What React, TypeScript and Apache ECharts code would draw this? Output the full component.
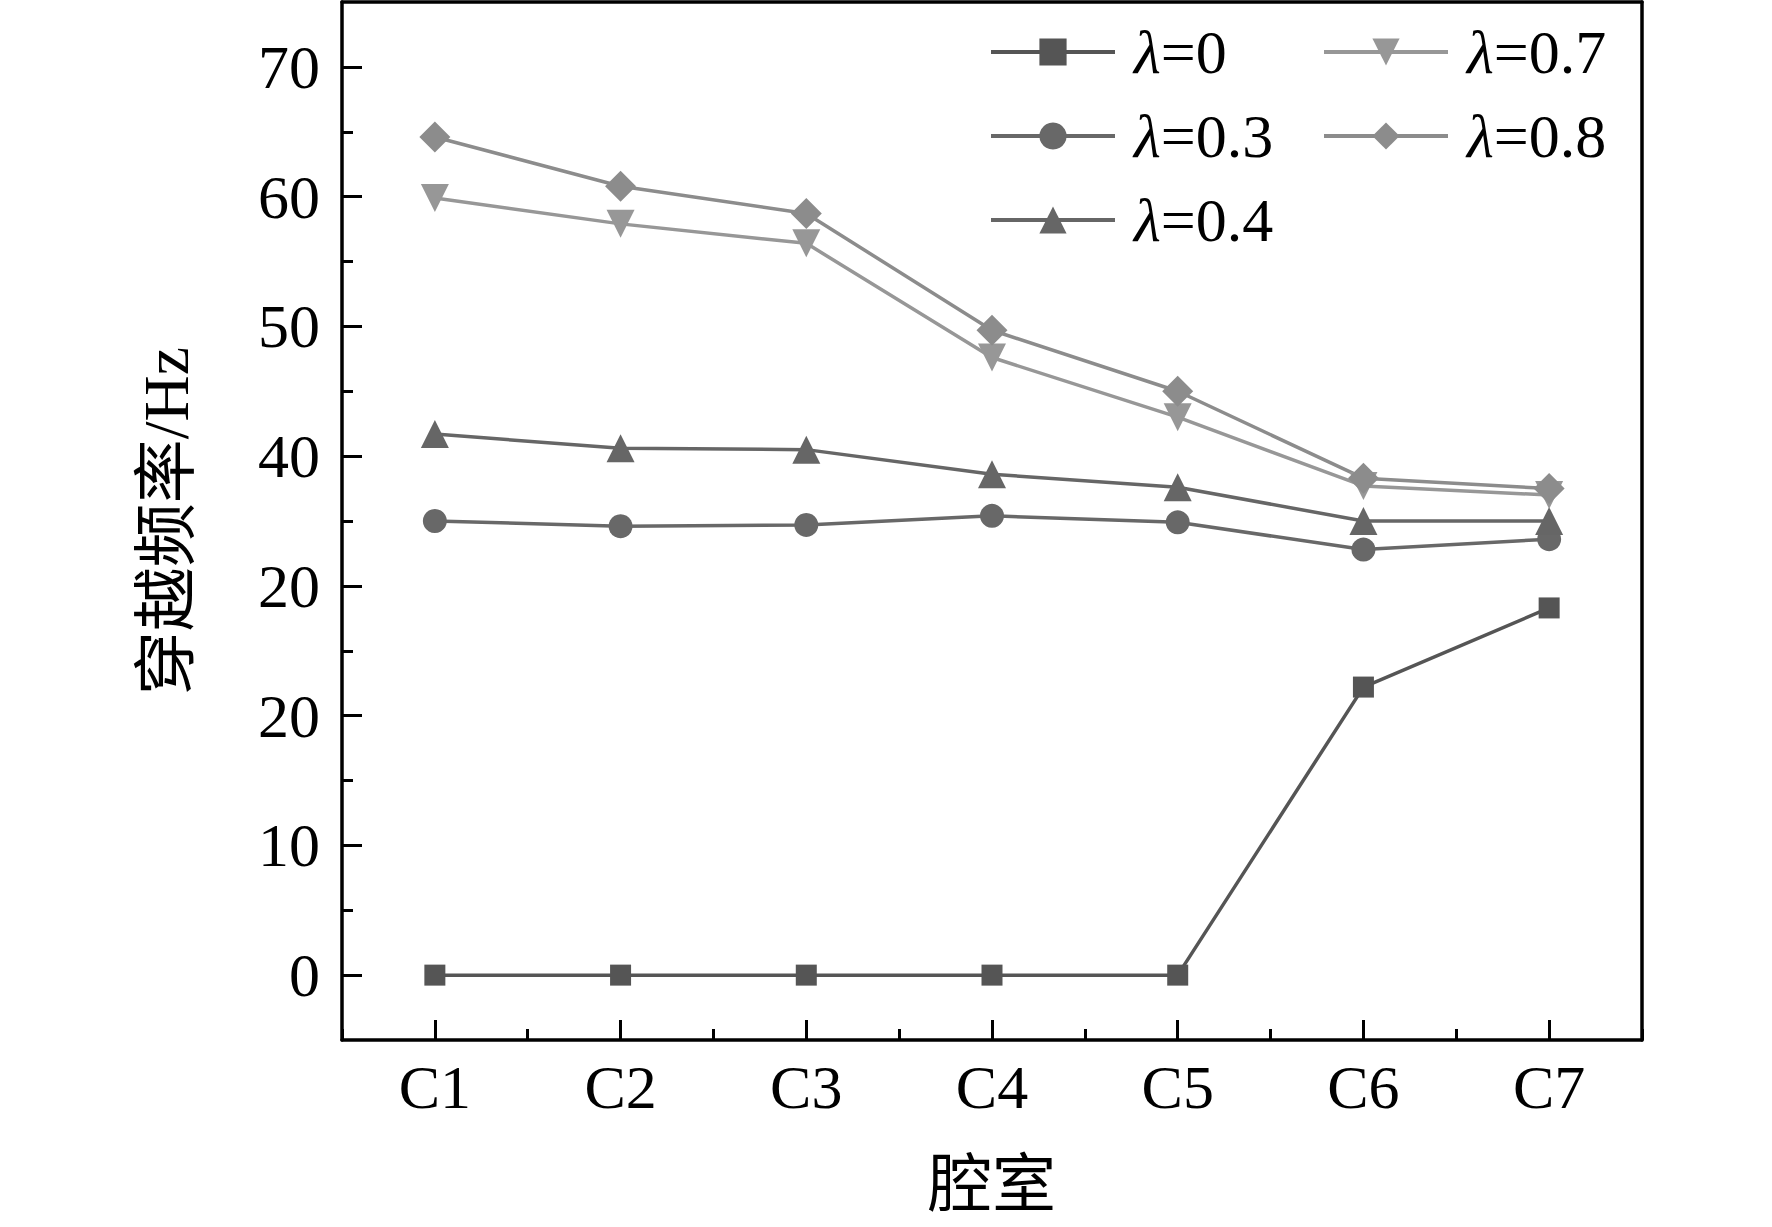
import React, { useEffect, useRef } from "react";
import * as echarts from "echarts";

const categories = ["C1", "C2", "C3", "C4", "C5", "C6", "C7"];
const yTickValues = [0, 10, 20, 30, 40, 50, 60, 70];
const yTickLabels = ["0", "10", "20", "20", "40", "50", "60", "70"];
const yMinorValues = [5, 15, 25, 35, 45, 55, 65];

const lambda0 = [0, 0, 0, 0, 0, 22.2, 28.3];
const lambda03 = [35.0, 34.6, 34.7, 35.4, 34.9, 32.8, 33.6];
const lambda04 = [41.7, 40.6, 40.5, 38.6, 37.6, 35.0, 35.0];
const lambda07 = [59.9, 57.9, 56.4, 47.6, 43.0, 37.7, 37.0];
const lambda08 = [64.6, 60.8, 58.7, 49.7, 45.0, 38.3, 37.5];

const FONT = "'Liberation Serif', 'Times New Roman', 'Noto Sans CJK SC', serif";

const App: React.FC = () => {
    const chartRef = useRef<HTMLDivElement>(null);

    useEffect(() => {
        if (!chartRef.current) return;
        const chart = echarts.init(chartRef.current, null, { renderer: "svg" });

        const line = (name: string, data: number[], color: string, symbol: string, size: number) => ({
            name,
            type: "line",
            data,
            xAxisIndex: 0,
            yAxisIndex: 0,
            symbol,
            symbolSize: size,
            showAllSymbol: true,
            lineStyle: { color, width: 3.5 },
            itemStyle: { color },
            z: 3,
        });

        const legendText = {
            fontFamily: FONT,
            fontSize: 62,
            color: "#000",
            lineHeight: 60,
            rich: {
                i: { fontFamily: FONT, fontSize: 62, fontStyle: "italic", color: "#000", padding: [0, 0, 0, 14] },
                n: { fontFamily: FONT, fontSize: 62, color: "#000" },
            },
        };
        const legendFmt = (name: string) => `{i|λ}{n|${name.slice(1)}}`;
        const legendBase = {
            orient: "vertical",
            top: 21,
            itemWidth: 124,
            itemHeight: 34,
            itemGap: 22,
            padding: 0,
            formatter: legendFmt,
            textStyle: legendText,
            lineStyle: { width: 4 },
        };
        const frameLine = { onZero: false, lineStyle: { color: "#000", width: 3.5 } };
        const tickStyle = { color: "#000", width: 3 };

        chart.setOption({
            animation: false,
            backgroundColor: "#fff",
            grid: { left: 342, right: 130, top: 2, bottom: 187, containLabel: false },
            legend: [
                { ...legendBase, data: ["λ=0", "λ=0.3", "λ=0.4"], left: 989 },
                { ...legendBase, data: ["λ=0.7", "λ=0.8"], left: 1322 },
            ],
            xAxis: [
                {
                    type: "category",
                    data: categories,
                    position: "bottom",
                    name: "腔室",
                    nameLocation: "middle",
                    nameGap: 112,
                    nameTextStyle: { fontFamily: FONT, fontSize: 64, color: "#000" },
                    axisLine: frameLine,
                    axisTick: { show: true, inside: true, alignWithLabel: true, length: 20, lineStyle: tickStyle },
                    axisLabel: { fontFamily: FONT, fontSize: 62, color: "#000", margin: 16 },
                    splitLine: { show: false },
                },
                {
                    type: "category",
                    data: categories,
                    position: "bottom",
                    axisLine: { show: false, onZero: false },
                    axisTick: { show: true, inside: true, length: 11, lineStyle: tickStyle },
                    axisLabel: { show: false },
                    splitLine: { show: false },
                },
                {
                    type: "category",
                    data: categories,
                    position: "top",
                    axisLine: frameLine,
                    axisTick: { show: false },
                    axisLabel: { show: false },
                    splitLine: { show: false },
                },
            ],
            yAxis: [
                {
                    type: "value",
                    min: -5,
                    max: 75,
                    position: "left",
                    name: "穿越频率/Hz",
                    nameLocation: "middle",
                    nameGap: 144,
                    nameTextStyle: { fontFamily: FONT, fontSize: 64, color: "#000" },
                    axisLine: { show: true, ...frameLine },
                    axisTick: { show: true, inside: true, length: 20, customValues: yTickValues, lineStyle: tickStyle },
                    axisLabel: {
                        fontFamily: FONT,
                        fontSize: 62,
                        color: "#000",
                        margin: 22,
                        customValues: yTickValues,
                        formatter: (v: number) => yTickLabels[yTickValues.indexOf(Math.round(v))] ?? "",
                    },
                    splitLine: { show: false },
                },
                {
                    type: "value",
                    min: -5,
                    max: 75,
                    position: "left",
                    axisLine: { show: false, onZero: false },
                    axisTick: { show: true, inside: true, length: 11, customValues: yMinorValues, lineStyle: tickStyle },
                    axisLabel: { show: false },
                    splitLine: { show: false },
                },
                {
                    type: "value",
                    min: -5,
                    max: 75,
                    position: "right",
                    axisLine: { show: true, ...frameLine },
                    axisTick: { show: false },
                    axisLabel: { show: false },
                    splitLine: { show: false },
                },
            ],
            series: [
                line("λ=0", lambda0, "#555555", "rect", 21),
                line("λ=0.3", lambda03, "#686868", "circle", 24),
                line("λ=0.4", lambda04, "#666666", "triangle", 28),
                line("λ=0.7", lambda07, "#979797", "path://M0,0L2,0L1,1.8Z", 28),
                line("λ=0.8", lambda08, "#8c8c8c", "diamond", 31),
            ],
        });

        return () => {
            chart.dispose();
        };
    }, []);

    return (
        <div style={{ position: "fixed", left: 0, top: 0, width: 1772, height: 1227, background: "#fff" }}>
            <div ref={chartRef} style={{ width: "100%", height: "100%" }} />
        </div>
    );
};

export default App;
